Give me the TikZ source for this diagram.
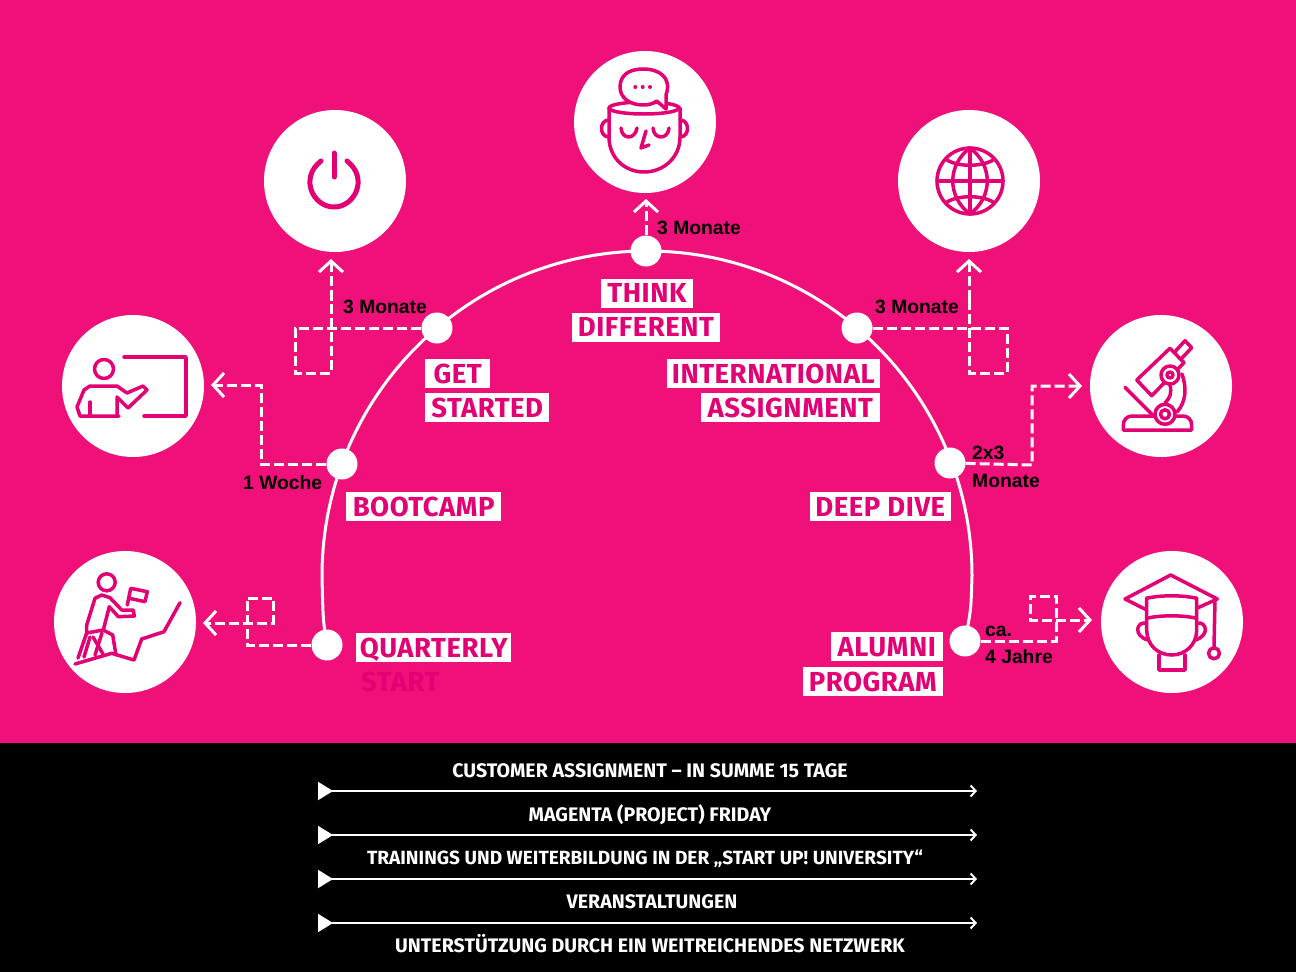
\documentclass[tikz,border=0pt]{standalone}
\usepackage{xcolor}
\usepackage{fontspec}
\setmainfont{Fira Sans}
\newfontfamily\notefont{Liberation Sans}
\newfontfamily\tagfont[LetterSpace=2]{Fira Sans}
\usetikzlibrary{arrows.meta}
\definecolor{pinkbg}{HTML}{F0107A}
\definecolor{magentaink}{HTML}{E20074}
\tikzset{
  iconcircle/.style={circle,fill=white,minimum size=142pt,inner sep=0pt},
  stopdot/.style={circle,fill=white,minimum size=31pt,inner sep=0pt},
  tag/.style={fill=white,text=magentaink,font=\tagfont\fontsize{27.5}{30}\selectfont\bfseries,text height=19.5pt,text depth=0pt,inner xsep=3.5pt,inner ysep=4.75pt},
  tagplain/.style={text=magentaink,font=\tagfont\fontsize{27.5}{30}\selectfont\bfseries,text height=19.5pt,text depth=0pt,inner sep=0pt},
  note/.style={text=black,font=\notefont\fontsize{19.3}{24}\selectfont\bfseries,text height=14pt,text depth=0pt,inner sep=0pt},
  barlabel/.style={text=white,font=\fontsize{19.6}{22}\selectfont\bfseries,text height=13.6pt,text depth=0pt,inner sep=0pt},
  bar/.style={white,line width=2pt,{Triangle[reversed,length=15pt,width=18pt]}-{Straight Barb[length=5pt,width=11pt,line width=2pt]}},
  route/.style={white,line width=3pt,dash pattern=on 10pt off 4pt},
  routetip/.style={route,-{Straight Barb[length=11pt,width=24pt,line width=3pt]}},
  icon/.style={magentaink,line width=3.5pt,line cap=round,line join=round},
}
\begin{document}
\begin{tikzpicture}[x=1pt,y=-1pt]
\useasboundingbox (0,0) rectangle (1296,972);
\fill[pinkbg] (0,0) rectangle (1296,743);
\fill[black] (0,743) rectangle (1296,972);

\node[iconcircle] (power) at (335,181) {};
\node[iconcircle] (head) at (645,122) {};
\node[iconcircle] (globe) at (969,181) {};
\node[iconcircle] (teacher) at (133,386) {};
\node[iconcircle] (scope) at (1161,386) {};
\node[iconcircle] (climber) at (125,622) {};
\node[iconcircle] (grad) at (1172,622) {};

\node[stopdot] (dotthink) at (646,251) {};
\node[stopdot] (dotget) at (437,328) {};
\node[stopdot] (dotintl) at (857,328) {};
\node[stopdot] (dotboot) at (342,464) {};
\node[stopdot] (dotdeep) at (950,463) {};
\node[stopdot] (dotstart) at (327,645) {};
\node[stopdot] (dotalumni) at (965,641) {};

\coordinate (arcleft) at (322,576);
\draw[white,line width=3pt] (dotstart.center) .. controls (323,620) .. (arcleft)
  arc[start angle=180,end angle=360,radius=325] .. controls (971,610) .. (dotalumni.center);

\coordinate (tipget) at (331,259);
\coordinate (tipintl) at (969,259);
\coordinate (tipthink) at (646,199);
\coordinate (tipboot) at (211,385);
\coordinate (tipdeep) at (1082,386);
\coordinate (tipstart) at (203,623);
\coordinate (tipalumni) at (1092,620);
\draw[route] (dotget) -- (295,328) -- (295,373) -- (331,373) -- (331,300);
\draw[routetip] (331,300) -- (tipget);
\draw[route] (dotintl) -- (1007,328) -- (1007,373) -- (969,373) -- (969,300);
\draw[routetip] (969,300) -- (tipintl);
\draw[routetip] (dotthink) -- (tipthink);
\draw[routetip] (dotboot) -- (261,464) -- (261,385) -- (tipboot);
\draw[routetip] (dotdeep) -- (1032,465) -- (1032,386) -- (tipdeep);
\draw[routetip] (dotstart) -- (247,645) -- (247,598) -- (273,598) -- (273,623) -- (tipstart);
\draw[routetip] (dotalumni) -- (1056,641) -- (1056,596) -- (1030,596) -- (1030,620) -- (tipalumni);

\node[tag,minimum width=92pt] (think) at (647,293) {THINK};
\node[tag,minimum width=148pt] (different) at (646,327) {DIFFERENT};
\node[tag,anchor=west,minimum width=65pt] (get) at (425,373.5) {GET};
\node[tag,anchor=west,minimum width=124pt] (started) at (425,407.5) {STARTED};
\node[tag,anchor=east,minimum width=213pt] (international) at (880,373.5) {INTERNATIONAL};
\node[tag,anchor=east,minimum width=179pt] (assignment) at (880,407.5) {ASSIGNMENT};
\node[tag,anchor=west,minimum width=155pt] (bootcamp) at (346,506.5) {BOOTCAMP};
\node[tag,anchor=east,minimum width=141pt] (deepdive) at (951,506.5) {DEEP DIVE};
\node[tag,anchor=west,minimum width=155pt] (quarterly) at (356,647.5) {QUARTERLY};
\node[tagplain,anchor=west] (startlabel) at (361,681.5) {START};
\node[tag,anchor=east,minimum width=112pt] (alumni) at (943,646.5) {ALUMNI};
\node[tag,anchor=east,minimum width=140pt] (program) at (943,681.5) {PROGRAM};

\node[note,anchor=west] (notethink) at (657,227) {3 Monate};
\node[note,anchor=west] (noteget) at (343,306) {3 Monate};
\node[note,anchor=west] (noteintl) at (875,306) {3 Monate};
\node[note,anchor=west] (noteboot) at (243,482) {1 Woche};
\node[note,anchor=west] (notedeepa) at (972,452) {2x3};
\node[note,anchor=west] (notedeepb) at (972,480) {Monate};
\node[note,anchor=west] (notealumnia) at (985,629) {ca.};
\node[note,anchor=west] (notealumnib) at (985,656) {4 Jahre};

\draw[icon,line width=5pt] (334,153) -- (334,177);
\draw[icon,line width=5pt] (347,161) .. controls (369,178) and (355,207) .. (334,207) .. controls (313,207) and (299,178) .. (321,161);

\draw[icon] (970,181) circle (33pt);
\draw[icon] (970,148) .. controls (947,165) and (947,197) .. (970,214) .. controls (993,197) and (993,165) .. (970,148);
\draw[icon] (970,148) -- (970,214);
\draw[icon] (937,181) -- (1003,181);
\draw[icon] (947,160) .. controls (958,167) and (982,167) .. (993,160);
\draw[icon] (947,202) .. controls (958,195) and (982,195) .. (993,202);

\draw[icon] (644,108) ellipse (35pt and 6pt);
\draw[icon] (609,108) -- (609,137) .. controls (609,158) and (625,172) .. (644,172) .. controls (663,172) and (680,158) .. (680,137) -- (680,108);
\draw[icon] (609,120) .. controls (599,120) and (599,137) .. (609,137);
\draw[icon] (680,120) .. controls (690,120) and (690,137) .. (680,137);
\draw[icon] (621,128) .. controls (622,140) and (635,140) .. (637,128);
\draw[icon] (653,128) .. controls (654,140) and (668,140) .. (669,128);
\draw[icon] (646,131) -- (641,148) -- (649,145);
\draw[icon,fill=white] (666,95) .. controls (672,78) and (660,69) .. (643,69) .. controls (628,69) and (620,76) .. (620,87) .. controls (620,98) and (630,105) .. (643,105) .. controls (648,105) and (653,104) .. (656.7,101) -- (666,109) -- cycle;
\fill[magentaink] (635.3,87) circle (2pt) (642.7,87) circle (2pt) (650,87) circle (2pt);

\draw[icon] (124,357) -- (186,357) -- (186,416) -- (144,416);
\draw[icon] (104,369) circle (9.5pt);
\draw[icon] (119,416) -- (80,416) -- (77,407) -- (84,390) -- (90,386) -- (117,386) -- (127,393) -- (143,386) -- (147,390) -- (128,408) -- (117,397) -- (117,416);
\draw[icon] (90,402) -- (90,416);

\draw[icon] (106.7,582.3) circle (8.5pt);
\draw[icon] (86.7,625) -- (95,598.3) -- (101.7,595) -- (110,597.7) -- (121.7,610) -- (133.3,610) -- (134.3,616) -- (118.3,616.7) -- (109.3,606.7) -- (103.3,630) -- (112.7,635) -- (116,655);
\draw[icon] (86.7,625) -- (86.7,633) -- (78,658);
\draw[icon] (86.7,633) -- (103.3,630);
\draw[icon] (90,637) -- (84,657);
\draw[icon] (93,637) -- (103,654);
\draw[icon] (102,633) -- (95,655);
\draw[icon] (127.3,605) -- (130.7,588.3) -- (147.3,591.7) -- (145,601.7) -- (129.3,598.3);
\draw[icon] (75,664) -- (111.7,653.3) -- (134,660) -- (141.7,639) -- (164,631.7) -- (180,602.7);

\draw[icon] (1123.3,430) -- (1191.7,430) -- (1191.7,425) .. controls (1191.7,420) and (1188,416) .. (1183,416) -- (1175,416);
\draw[icon] (1155,416) -- (1132,416) .. controls (1127,416) and (1123.3,420) .. (1123.3,425) -- (1123.3,430);
\draw[icon] (1125,387.3) -- (1152.7,415);
\draw[icon] (1165,414.3) circle (10pt);
\draw[icon] (1165,414.3) circle (4.5pt);
\draw[icon] (1182,374) .. controls (1187,388) and (1186,402) .. (1177,412);
\draw[icon] (1170,385) .. controls (1172,393) and (1170,398) .. (1165,403);
\draw[icon] (1136.7,380) -- (1170,348.3) -- (1184,362.7) -- (1151.7,395.7) -- cycle;
\draw[icon] (1175,351.7) -- (1185,340.7) -- (1191.7,347.7) -- (1181.7,358.3);
\draw[icon,fill=white] (1170,375) circle (9pt);
\draw[icon] (1170,375) circle (3pt);

\draw[icon] (1146.7,610) -- (1125,599) -- (1170.7,575) -- (1217.3,599) -- (1196.7,608.3);
\draw[icon] (1146.7,598.3) .. controls (1160,595) and (1183,595) .. (1196.7,598.3);
\draw[icon] (1146.7,598) -- (1146.7,630) .. controls (1146.7,645) and (1158,655) .. (1171.7,655) .. controls (1185,655) and (1196.7,645) .. (1196.7,630) -- (1196.7,598);
\draw[icon] (1146.7,618.3) .. controls (1160,615) and (1183,615) .. (1196.7,618.3);
\draw[icon] (1146.7,623) .. controls (1136,621) and (1133,636) .. (1148,640);
\draw[icon] (1196.7,623) .. controls (1207,621) and (1210,636) .. (1195,640);
\draw[icon] (1159,655) -- (1159,670) -- (1185,670) -- (1185,655);
\draw[icon] (1215,599) -- (1214,647);
\draw[icon] (1214,653.3) circle (5.5pt);

\node[barlabel] (customer) at (650,771) {CUSTOMER ASSIGNMENT -- IN SUMME 15 TAGE};
\node[barlabel] (magenta) at (650,815) {MAGENTA (PROJECT) FRIDAY};
\node[barlabel,font=\fontsize{19.1}{22}\selectfont\bfseries] (trainings) at (645,858) {TRAININGS UND WEITERBILDUNG IN DER „START UP! UNIVERSITY“};
\node[barlabel] (events) at (652,902) {VERANSTALTUNGEN};
\node[barlabel] (network) at (650,946) {UNTERSTÜTZUNG DURCH EIN WEITREICHENDES NETZWERK};

\coordinate (barastart) at (318,791);
\coordinate (baraend) at (977,791);
\coordinate (barbstart) at (318,835);
\coordinate (barbend) at (977,835);
\coordinate (barcstart) at (318,879);
\coordinate (barcend) at (977,879);
\coordinate (bardstart) at (318,923);
\coordinate (bardend) at (977,923);
\draw[bar] (barastart) -- (baraend);
\draw[bar] (barbstart) -- (barbend);
\draw[bar] (barcstart) -- (barcend);
\draw[bar] (bardstart) -- (bardend);
\end{tikzpicture}
\end{document}
